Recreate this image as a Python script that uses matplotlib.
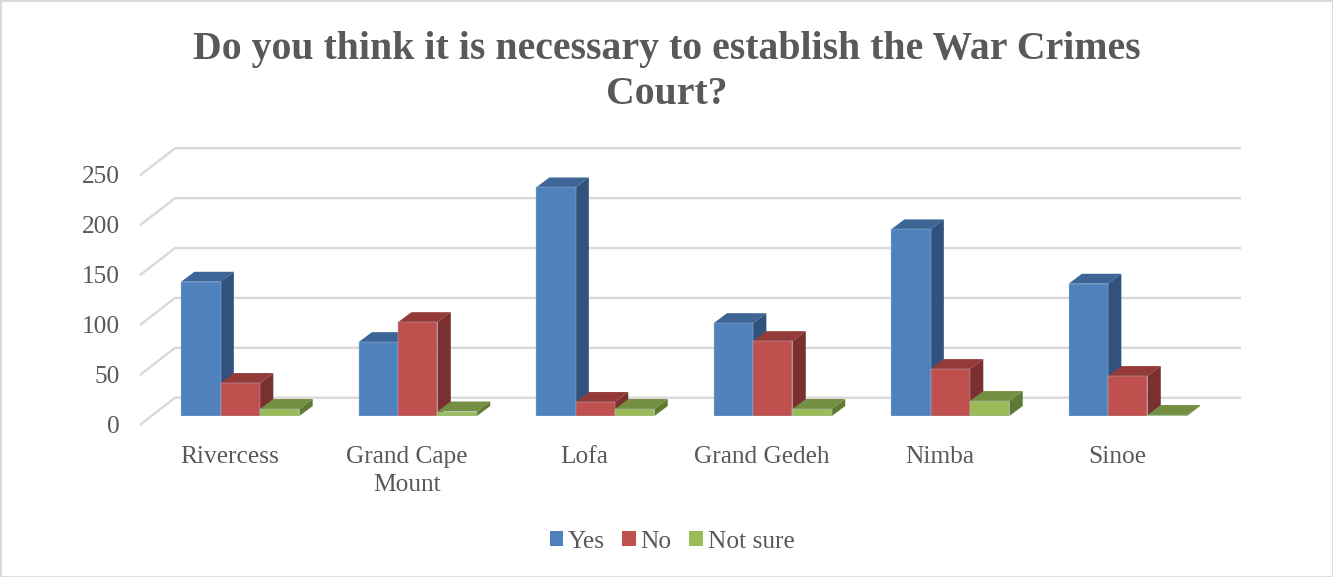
import matplotlib
matplotlib.use("Agg")
import matplotlib.pyplot as plt
from matplotlib.patches import Polygon, Rectangle, Patch
from matplotlib.transforms import ScaledTranslation

plt.rcParams['font.family'] = ['Liberation Serif', 'DejaVu Serif']

counties = ["Rivercess", "Grand Cape\nMount", "Lofa", "Grand Gedeh", "Nimba", "Sinoe"]
yes_votes = [134.5, 74, 229, 93, 187, 132.5]
no_votes = [33, 94, 14, 75, 47, 40]
not_sure = [7, 4.5, 7, 7, 15, 1]
y_ticks = [0, 50, 100, 150, 200, 250]

GREY = "#595959"
GRID = "#D9D9D9"
W, H = 1333, 577
DPI = 100

# fake 3D: (colour of front, top, side) for each series
series = [
    ("Yes", yes_votes, "#4F81BD", "#3D6696", "#30527C"),
    ("No", no_votes, "#C0504D", "#943A38", "#7A302E"),
    ("Not sure", not_sure, "#9BBB59", "#748F42", "#5F7A33"),
]

fig = plt.figure(figsize=(W / DPI, H / DPI), dpi=DPI)
fig.patch.set_facecolor("white")
fig.add_artist(Rectangle((0, 0), 1, 1, transform=fig.transFigure, fill=False,
                         edgecolor=GRID, linewidth=2))

# axes span the plane of the bar fronts
left, right, bottom, top = 151.5, 1216.5, 416, 166.5
ax = fig.add_axes([left / W, 1 - bottom / H, (right - left) / W, (bottom - top) / H])
ax.set_xlim(-0.5, 5.5)
ax.set_ylim(0, 250)
ax.patch.set_visible(False)
for s in ax.spines.values():
    s.set_visible(False)

# depth offsets in data units
bar_dx, bar_dy = 0.075, 10
back_dx, back_dy = 0.1325, 18.3
front_dx, front_dy = -0.0609, -8.3

# walls
for t in y_ticks:
    ax.plot([-0.5 + front_dx, -0.5 + back_dx, 5.5 + back_dx],
            [t + front_dy, t + back_dy, t + back_dy],
            color=GRID, lw=1.7, clip_on=False, zorder=1, solid_joinstyle='miter')

# bars, back to front within each group
width = 0.2222
for j, (name, vals, front, top_c, side) in enumerate(series):
    xs = [i + (j - 1) * width for i in range(len(vals))]
    z = 2 + j
    ax.bar(xs, vals, width=width, color=front, edgecolor="#A9C0DC", linewidth=0.3, zorder=z + 0.5)
    for x, v in zip(xs, vals):
        x0, x1 = x - width / 2, x + width / 2
        ax.add_patch(Polygon([(x0, v), (x1, v), (x1 + bar_dx, v + bar_dy), (x0 + bar_dx, v + bar_dy)],
                             closed=True, facecolor=top_c, edgecolor="none", zorder=z, clip_on=False))
        ax.add_patch(Polygon([(x1, 0), (x1 + bar_dx, bar_dy), (x1 + bar_dx, v + bar_dy), (x1, v)],
                             closed=True, facecolor=side, edgecolor="none", zorder=z, clip_on=False))

# axis labels
ax.set_xticks([i + front_dx for i in range(len(counties))])
ax.set_xticklabels(counties, fontsize=18.3, color=GREY, linespacing=1.35)
ax.tick_params(axis='x', length=0, pad=21.5)
ax.set_yticks(y_ticks)
ax.set_yticklabels([str(t) for t in y_ticks], fontsize=18.3, color=GREY)
ax.tick_params(axis='y', length=0, pad=22.5)
shift = ScaledTranslation(0, -8.3 / DPI, fig.dpi_scale_trans)
for lab in ax.get_yticklabels():
    lab.set_transform(lab.get_transform() + shift)

fig.text(667 / W, 1 - 72 / H, "Do you think it is necessary to establish the War Crimes\nCourt?",
         ha='center', va='center', fontsize=28.6, fontweight='bold', color=GREY, linespacing=1.27)

handles = [Patch(facecolor=c[2], label=c[0]) for c in series]
fig.legend(handles=handles, ncol=3, loc='center', bbox_to_anchor=(672 / W, 1 - 541.5 / H),
           frameon=False, fontsize=18.3, labelcolor=GREY, handlelength=0.53, handleheight=0.53,
           handletextpad=0.19, columnspacing=0.69)

fig.savefig("out.png", dpi=DPI)
